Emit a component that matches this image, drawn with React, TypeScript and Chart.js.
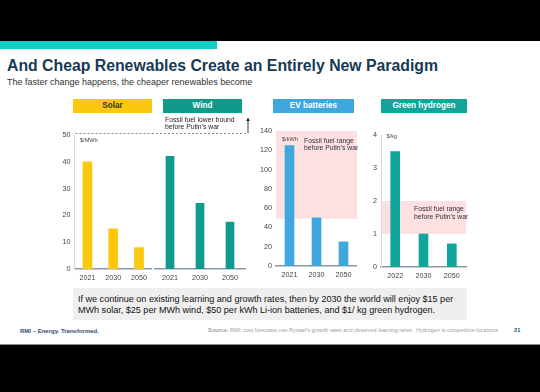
import React, { useEffect, useRef } from "react";
import { Chart, registerables } from "chart.js";
Chart.register(...registerables);

// ---- data ----
const solarYears = ["2021", "2030", "2050"];
const solarCost = [40, 15, 8]; // $/MWh
const windYears = ["2021", "2030", "2050"];
const windCost = [42, 24.5, 17.5]; // $/MWh
const evYears = ["2021", "2030", "2050"];
const evCost = [125, 50, 25]; // $/kWh
const h2Years = ["2022", "2030", "2050"];
const h2Cost = [3.5, 1.0, 0.7]; // $/kg
const powerAxis = [0, 50, 10]; // min, max, step
const evAxis = [0, 140, 20];
const h2Axis = [0, 4, 1];
const fossilPowerLowerBound = 50.7;
const evFossilRange = [49, 140];
const h2FossilRange = [1, 2];

const FONT = "'Liberation Sans', Arial, Helvetica, sans-serif";
Chart.defaults.font.family = FONT;

const bandPlugin = {
  id: "band",
  beforeDraw(chart: any, _a: any, opts: any) {
    if (!opts || !opts.range) return;
    const { ctx, chartArea, scales } = chart;
    const y = scales.y;
    const top = y.getPixelForValue(opts.range[1]);
    const bot = y.getPixelForValue(opts.range[0]);
    ctx.save();
    ctx.fillStyle = opts.color;
    ctx.fillRect(chartArea.left, top, chartArea.right - chartArea.left, bot - top);
    ctx.restore();
  },
};

const dashPlugin = {
  id: "dash",
  afterDraw(chart: any, _a: any, opts: any) {
    if (!opts || opts.value === undefined) return;
    const { ctx, chartArea, scales, width } = chart;
    const yy = Math.round(scales.y.getPixelForValue(opts.value)) + 0.5;
    const x0 = opts.fromCanvasLeft ? 0 : chartArea.left + 1;
    const x1 = opts.toCanvasRight ? width : chartArea.right;
    ctx.save();
    ctx.strokeStyle = "#8a8a8a";
    ctx.lineWidth = 1;
    ctx.setLineDash([2, 2]);
    ctx.beginPath();
    ctx.moveTo(x0, yy);
    ctx.lineTo(x1, yy);
    ctx.stroke();
    ctx.restore();
  },
};

type Cfg = {
  labels: string[];
  values: number[];
  color: string;
  axis: number[];
  w: number;
  h: number;
  pad: { top: number; right: number; bottom: number; left: number };
  yw: number;
  showY: boolean;
  yBorder: boolean;
  xh: number;
  bar: number;
  band?: any;
  dash?: any;
};

function makeChart(canvas: HTMLCanvasElement, c: Cfg) {
  return new Chart(canvas, {
    type: "bar",
    data: {
      labels: c.labels,
      datasets: [
        { data: c.values, backgroundColor: c.color, barThickness: c.bar, borderWidth: 0 },
      ],
    },
    options: {
      animation: false,
      responsive: false,
      maintainAspectRatio: false,
      layout: { padding: c.pad },
      plugins: {
        legend: { display: false },
        tooltip: { enabled: false },
        band: c.band ?? false,
        dash: c.dash ?? false,
      } as any,
      scales: {
        x: {
          grid: { display: false, drawTicks: false },
          border: { display: true, color: "#8799ab", width: 1.6 },
          ticks: { color: "#444", font: { size: 7.2 }, padding: 5, maxRotation: 0 },
          afterFit: (s: any) => {
            s.height = c.xh;
          },
        },
        y: {
          display: c.showY,
          min: c.axis[0],
          max: c.axis[1],
          grid: { display: false, drawTicks: false },
          border: { display: c.yBorder, color: "#d9d9d9", width: 1 },
          ticks: { stepSize: c.axis[2], color: "#444", font: { size: 7.2 }, padding: 4 },
          afterFit: (s: any) => {
            s.width = c.yw;
          },
        },
      },
    } as any,
    plugins: [bandPlugin, dashPlugin],
  });
}

const configs: { key: string; left: number; top: number; cfg: Cfg }[] = [
  {
    key: "solar",
    left: 50,
    top: 120,
    cfg: {
      labels: solarYears,
      values: solarCost,
      color: "#fcc70f",
      axis: powerAxis,
      w: 102,
      h: 163,
      pad: { top: 15, right: 0, bottom: 0, left: 0 },
      yw: 24.5,
      showY: true,
      yBorder: true,
      xh: 14,
      bar: 9,
      dash: { value: fossilPowerLowerBound, toCanvasRight: true },
    },
  },
  {
    key: "wind",
    left: 152,
    top: 120,
    cfg: {
      labels: windYears,
      values: windCost,
      color: "#0f9a8c",
      axis: powerAxis,
      w: 94,
      h: 163,
      pad: { top: 15, right: 1, bottom: 0, left: 3 },
      yw: 0,
      showY: false,
      yBorder: false,
      xh: 14,
      bar: 8,
      dash: { value: fossilPowerLowerBound, fromCanvasLeft: true, toCanvasRight: true },
    },
  },
  {
    key: "ev",
    left: 250,
    top: 120,
    cfg: {
      labels: evYears,
      values: evCost,
      color: "#3fa6de",
      axis: evAxis,
      w: 107,
      h: 160,
      pad: { top: 11, right: 0, bottom: 0, left: 0 },
      yw: 26,
      showY: true,
      yBorder: false,
      xh: 14,
      bar: 9,
      band: { range: evFossilRange, color: "#fde1e2" },
    },
  },
  {
    key: "h2",
    left: 360,
    top: 120,
    cfg: {
      labels: h2Years,
      values: h2Cost,
      color: "#12a59c",
      axis: h2Axis,
      w: 107,
      h: 161,
      pad: { top: 15, right: 1, bottom: 0, left: 0 },
      yw: 21,
      showY: true,
      yBorder: true,
      xh: 14,
      bar: 9,
      band: { range: h2FossilRange, color: "#fde1e2" },
    },
  },
];

function T(props: {
  x: number;
  y: number;
  size: number;
  color?: string;
  weight?: number | string;
  children: React.ReactNode;
}) {
  const { x, y, size, color = "#222", weight = 400, children } = props;
  return (
    <div
      style={{
        position: "absolute",
        left: x,
        top: y - size * 0.8465,
        fontSize: size,
        lineHeight: `${size}px`,
        fontWeight: weight as any,
        color,
        whiteSpace: "nowrap",
        fontFamily: FONT,
      }}
    >
      {children}
    </div>
  );
}

function Header(props: { x: number; w: number; bg: string; color: string; text: string }) {
  return (
    <div
      style={{
        position: "absolute",
        left: props.x,
        top: 99,
        width: props.w,
        height: 14,
        background: props.bg,
        color: props.color,
        fontFamily: FONT,
        fontWeight: 700,
        fontSize: 8.2,
        lineHeight: "14px",
        textAlign: "center",
      }}
    >
      {props.text}
    </div>
  );
}

export default function App() {
  const refs = useRef<(HTMLCanvasElement | null)[]>([]);
  useEffect(() => {
    const charts = configs.map((c, i) => makeChart(refs.current[i] as HTMLCanvasElement, c.cfg));
    return () => charts.forEach((ch) => ch.destroy());
  }, []);

  return (
    <div
      style={{
        position: "fixed",
        left: 0,
        top: 0,
        width: 540,
        height: 392,
        background: "#fff",
        overflow: "hidden",
        fontFamily: FONT,
      }}
    >
      <div style={{ position: "absolute", left: 0, top: 0, width: 540, height: 41, background: "#000" }} />
      <div style={{ position: "absolute", left: 0, top: 41, width: 217, height: 8, background: "#10cfc7" }} />

      <T x={7} y={71.5} size={15.8} weight={700} color="#163a55">
        And Cheap Renewables Create an Entirely New Paradigm
      </T>
      <T x={7} y={86} size={9} color="#333">
        The faster change happens, the cheaper renewables become
      </T>

      <Header x={73} w={79} bg="#fcc70f" color="#333" text="Solar" />
      <Header x={163} w={79} bg="#0f9a8c" color="#fff" text="Wind" />
      <Header x={273} w={81} bg="#3fa6de" color="#fff" text="EV batteries" />
      <Header x={381} w={86} bg="#12a59c" color="#fff" text="Green hydrogen" />

      {configs.map((c, i) => (
        <canvas
          key={c.key}
          ref={(el) => {
            refs.current[i] = el;
          }}
          width={c.cfg.w}
          height={c.cfg.h}
          style={{ position: "absolute", left: c.left, top: c.top, width: c.cfg.w, height: c.cfg.h }}
        />
      ))}

      <T x={165} y={122.5} size={6.8}>
        Fossil fuel lower bound
      </T>
      <T x={165} y={130} size={6.8}>
        before Putin’s war
      </T>
      <svg style={{ position: "absolute", left: 244, top: 116, width: 8, height: 19 }} viewBox="0 0 8 19">
        <line x1="4" y1="17" x2="4" y2="3" stroke="#222" strokeWidth="0.9" />
        <path d="M2.2 5 L4 1.5 L5.8 5 Z" fill="#222" />
      </svg>

      <T x={80} y={143} size={5.6} color="#444">
        $/MWh
      </T>
      <T x={282} y={141.5} size={5.6} color="#444">
        $/kWh
      </T>
      <T x={304} y={143.5} size={6.8} color="#333">
        Fossil fuel range
      </T>
      <T x={304} y={151} size={6.8} color="#333">
        before Putin’s war
      </T>
      <T x={386.5} y={138.5} size={5.6} color="#444">
        $/kg
      </T>
      <T x={414} y={211.5} size={6.8} color="#333">
        Fossil fuel range
      </T>
      <T x={414} y={219.5} size={6.8} color="#333">
        before Putin’s war
      </T>

      <div style={{ position: "absolute", left: 73, top: 288, width: 394, height: 32, background: "#efefef" }} />
      <T x={78} y={302.5} size={9.05} color="#111">
        If we continue on existing learning and growth rates, then by 2030 the world will enjoy $15 per
      </T>
      <T x={78} y={313.5} size={9.05} color="#111">
        MWh solar, $25 per MWh wind, $50 per kWh Li-ion batteries, and $1/ kg green hydrogen.
      </T>

      <T x={20} y={333} size={6} weight={700} color="#2f4d6e">
        RMI – Energy. Transformed.
      </T>
      <T x={208} y={333} size={5.5} color="#a0a0a0">
        <b>Source:</b> RMI; cost forecasts use Rystad’s growth rates and observed learning rates.&nbsp; Hydrogen is competitive locations
      </T>
      <T x={514} y={333} size={5.8} weight={700} color="#2f4d6e">
        21
      </T>

      <div style={{ position: "absolute", left: 0, top: 344, width: 540, height: 1, background: "#8a8a8a" }} />
      <div style={{ position: "absolute", left: 0, top: 345, width: 540, height: 47, background: "#000" }} />
    </div>
  );
}
